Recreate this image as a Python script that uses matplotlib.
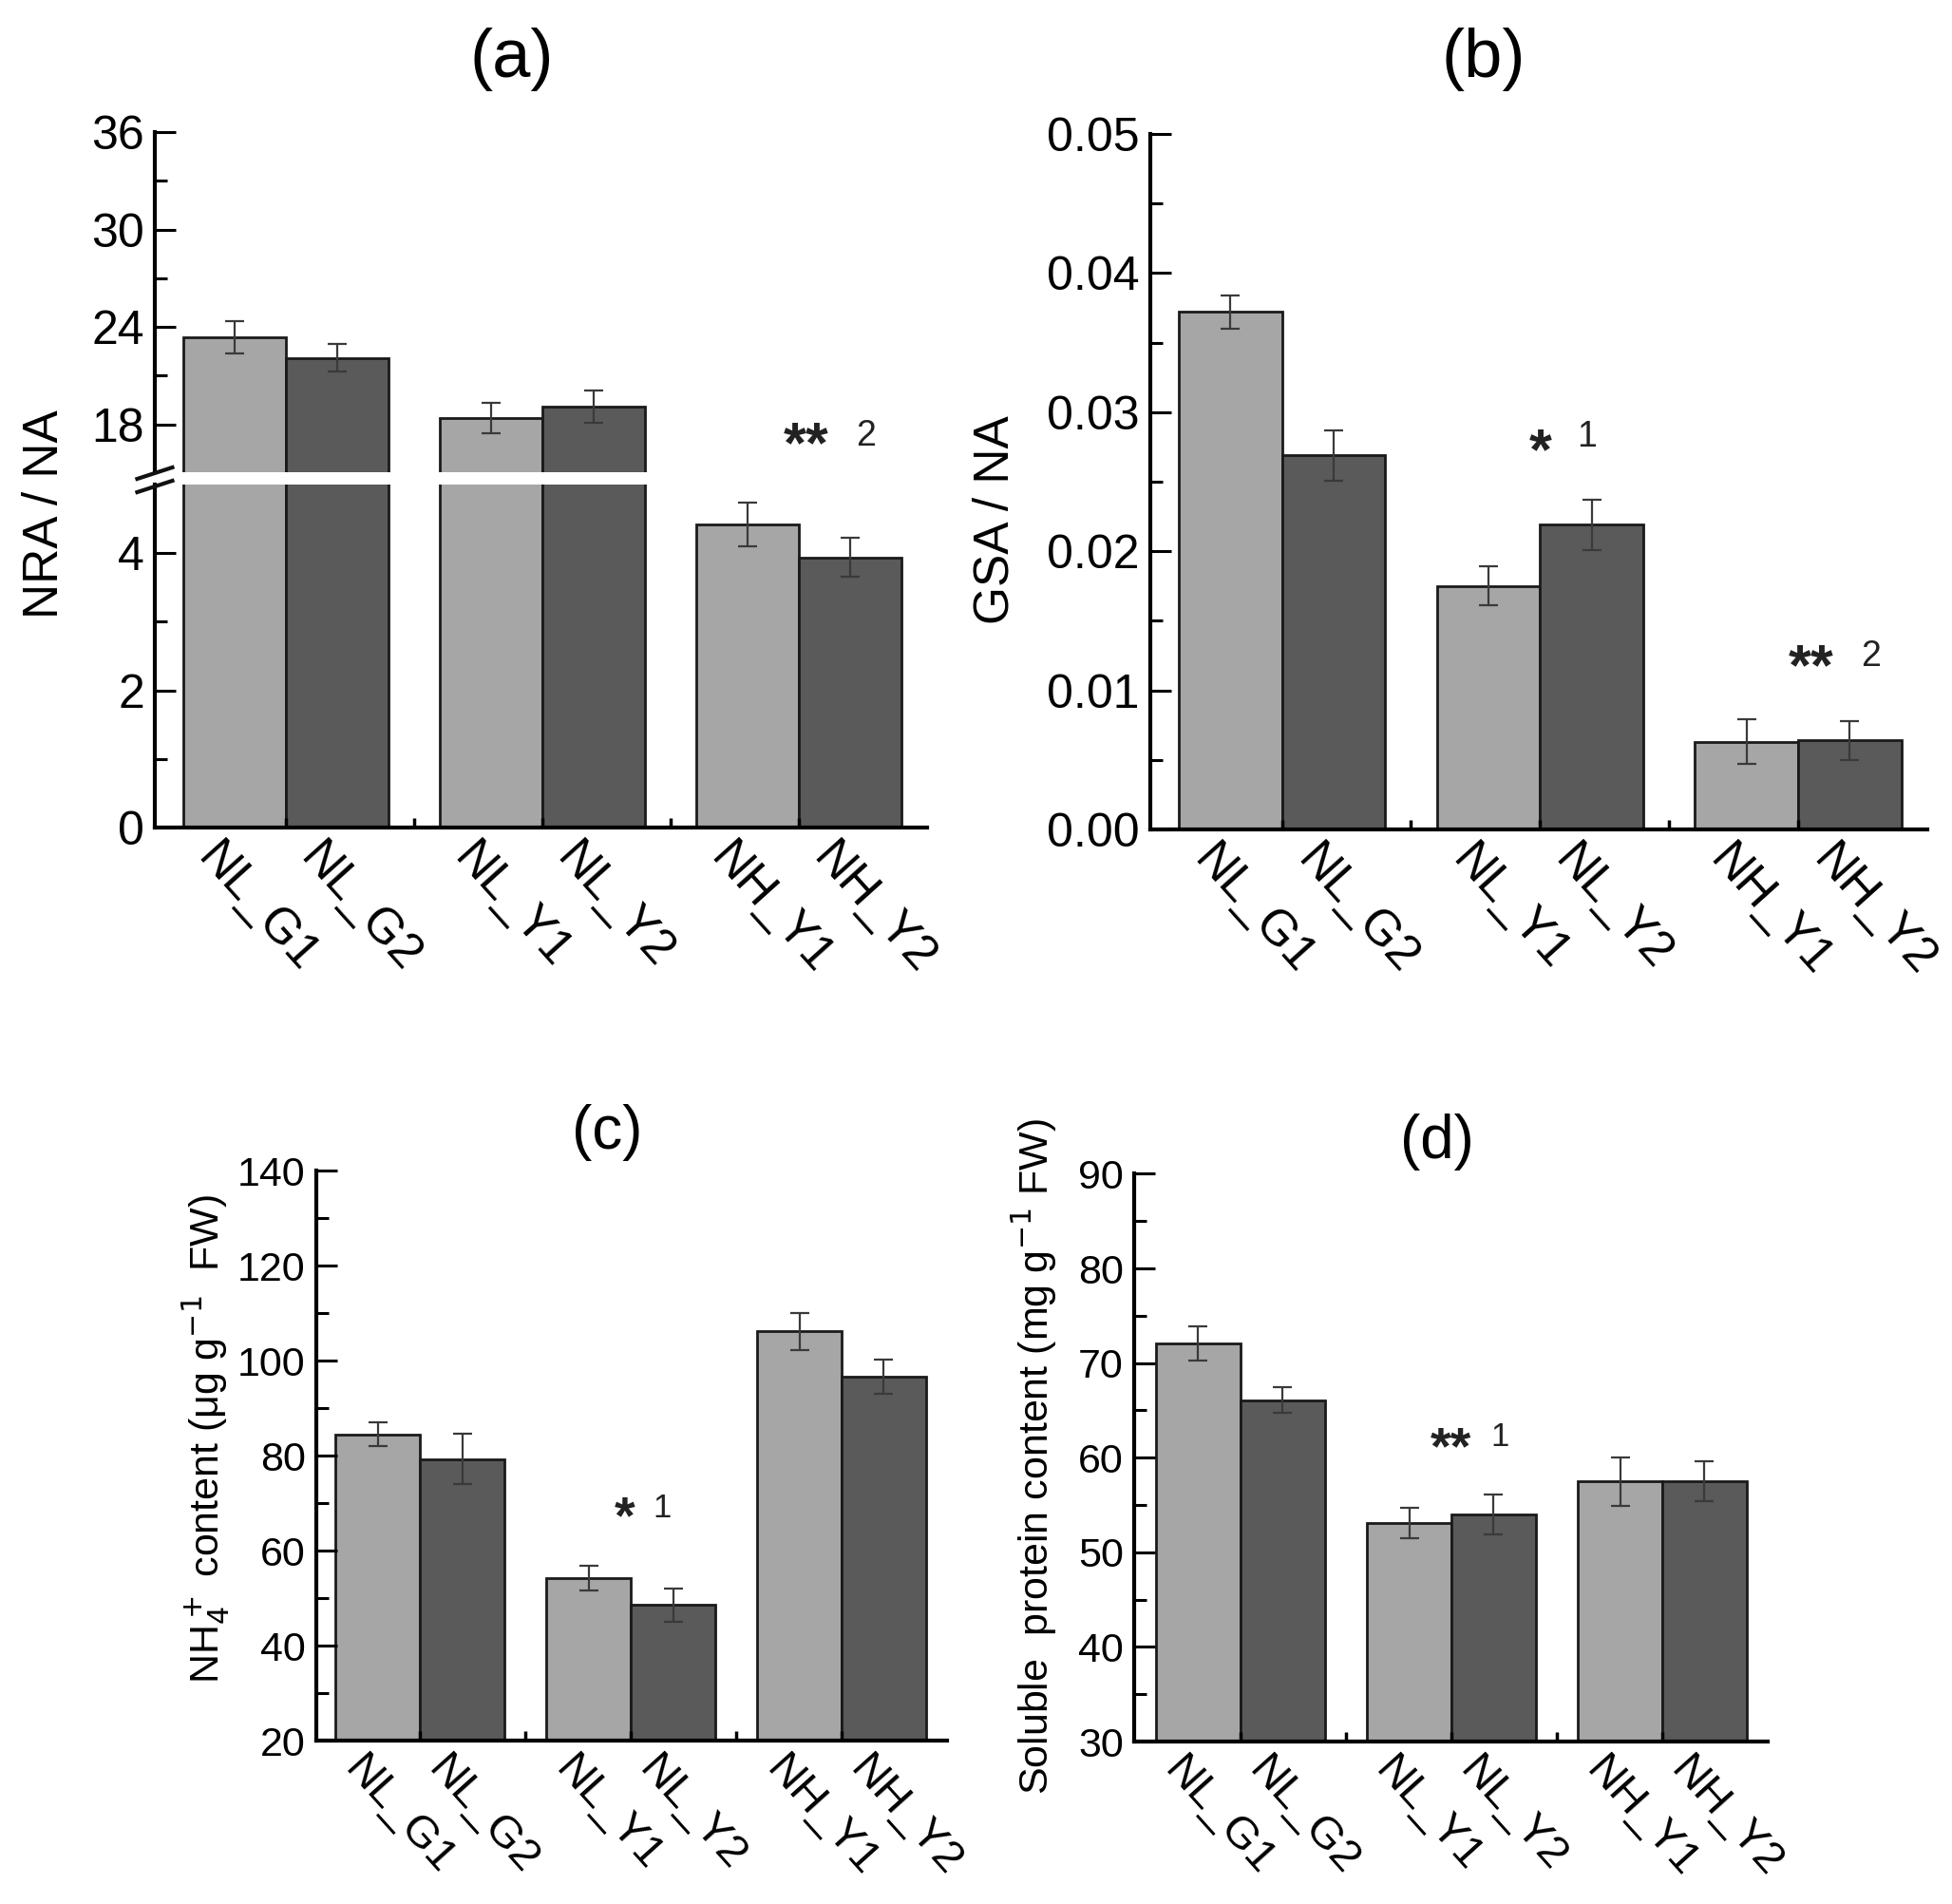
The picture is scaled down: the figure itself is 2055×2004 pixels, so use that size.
import matplotlib
matplotlib.use('Agg')
import matplotlib.pyplot as plt
from matplotlib.ticker import MultipleLocator, FixedLocator
from matplotlib.lines import Line2D
import matplotlib.transforms as mtransforms

plt.rcParams['font.family'] = ['Liberation Sans', 'DejaVu Sans']

# categories
labels = ['NL_G1', 'NL_G2', 'NL_Y1', 'NL_Y2', 'NH_Y1', 'NH_Y2']
groups = [1, 2, 3]

# (a) NRA / NA  -- light bar (first), dark bar (second) of each group
nra_1 = [23.35, 18.4, 4.42]
nra_2 = [22.1, 19.1, 3.94]
nra_err1 = [1.0, 0.95, 0.32]
nra_err2 = [0.85, 1.0, 0.29]

# (b) GSA / NA
gsa_1 = [0.0372, 0.0175, 0.0063]
gsa_2 = [0.0269, 0.0219, 0.0064]
gsa_err1 = [0.0012, 0.0014, 0.0016]
gsa_err2 = [0.0018, 0.0018, 0.0014]

# (c) NH4+ content
nh4_1 = [84.5, 54.3, 106.2]
nh4_2 = [79.3, 48.6, 96.6]
nh4_err1 = [2.5, 2.6, 3.9]
nh4_err2 = [5.3, 3.5, 3.6]

# (d) soluble protein content
prot_1 = [72.1, 53.1, 57.5]
prot_2 = [66.1, 54.0, 57.5]
prot_err1 = [1.8, 1.6, 2.55]
prot_err2 = [1.4, 2.1, 2.1]

light = '#a6a6a6'
dark = '#5a5a5a'
W = 0.4

fig = plt.figure(figsize=(20.55, 20.04), dpi=100)


def draw_bars(ax, v1, v2, e1, e2):
    x1 = [g - W / 2 for g in groups]
    x2 = [g + W / 2 for g in groups]
    ax.bar(x1, v1, W, color=light, edgecolor='#1a1a1a', linewidth=2)
    ax.bar(x2, v2, W, color=dark, edgecolor='#1a1a1a', linewidth=2)
    for xs, vs, es in [(x1, v1, e1), (x2, v2, e2)]:
        ax.errorbar(xs, vs, yerr=es, fmt='none', ecolor='#3a3a3a',
                    elinewidth=1.6, capsize=7, capthick=1.6)


def style(ax, fs, xfs, show_x=True):
    ax.set_xlim(0.49, 3.5)
    for s in ['top', 'right']:
        ax.spines[s].set_visible(False)
    for s in ['left', 'bottom']:
        ax.spines[s].set_linewidth(3)
    ax.tick_params(axis='y', which='major', direction='in', length=16,
                   width=2.2, labelsize=fs, pad=8)
    ax.tick_params(axis='y', which='minor', direction='in', length=9,
                   width=2.2)
    bar_x = [g + d for g in groups for d in (-W / 2, W / 2)]
    ax.set_xticks(bar_x)
    ax.xaxis.set_minor_locator(FixedLocator([1, 1.5, 2, 2.5, 3]))
    ax.tick_params(axis='x', which='major', length=0, pad=6)
    ax.tick_params(axis='x', which='minor', direction='in', length=7,
                   width=2.5)
    if show_x:
        ax.set_xticklabels(labels, rotation=-48, ha='left', va='top',
                           rotation_mode='anchor', fontsize=xfs)
        off = mtransforms.ScaledTranslation(-0.12, 0, fig.dpi_scale_trans)
        for t in ax.get_xticklabels():
            t.set_transform(t.get_transform() + off)
    else:
        ax.set_xticklabels([])


def mark(ax, x, y, stars, nx, ny, num, fs=44, nfs=27):
    ax.text(x, y, stars, ha='center', va='center', fontsize=fs,
            fontweight='bold', color='#222222')
    ax.text(nx, ny, num, ha='center', va='center', fontsize=nfs,
            color='#222222')


# ---------- (a) broken axis ----------
ax_au = fig.add_axes([0.0793, 0.7520, 0.3956, 0.1786])
ax_al = fig.add_axes([0.0793, 0.5654, 0.3956, 0.1801])
for ax in (ax_au, ax_al):
    draw_bars(ax, nra_1, nra_2, nra_err1, nra_err2)
ax_au.set_ylim(15.06, 36)
ax_al.set_ylim(0, 5)
style(ax_au, 36, 37, show_x=False)
style(ax_al, 36, 37)
ax_au.spines['bottom'].set_visible(False)
ax_au.tick_params(axis='x', which='both', length=0)
ax_au.yaxis.set_major_locator(FixedLocator([18, 24, 30, 36]))
ax_au.yaxis.set_minor_locator(FixedLocator([21, 27, 33]))
ax_al.yaxis.set_major_locator(FixedLocator([0, 2, 4]))
ax_al.yaxis.set_minor_locator(FixedLocator([1, 3]))
mark(ax_au, 3.03, 16.6, '**', 3.26, 17.3, '2')
fig.text(0.023, 0.730, 'NRA / NA', rotation=90, ha='center', va='center',
         fontsize=37)
fig.text(0.262, 0.969, '(a)', ha='center', va='center', fontsize=52)
# break marks on the y axis
bx, by = 0.0793, 1 - 505 / 2004
for dy in (-0.0035, 0.0035):
    fig.add_artist(Line2D([bx - 0.009, bx + 0.009],
                          [by + dy - 0.003, by + dy + 0.003],
                          color='#111111', linewidth=3))

# ---------- (b) ----------
ax_b = fig.add_axes([0.5893, 0.5644, 0.3980, 0.3652])
draw_bars(ax_b, gsa_1, gsa_2, gsa_err1, gsa_err2)
ax_b.set_ylim(0, 0.05)
style(ax_b, 36, 37)
ax_b.yaxis.set_major_locator(MultipleLocator(0.01))
ax_b.yaxis.set_minor_locator(MultipleLocator(0.005))
ax_b.yaxis.set_major_formatter(plt.FuncFormatter(lambda v, p: f'{v:.2f}'))
mark(ax_b, 2.0, 0.0270, '*', 2.18, 0.0282, '1')
mark(ax_b, 3.05, 0.0115, '**', 3.28, 0.0124, '2')
fig.text(0.510, 0.727, 'GSA / NA', rotation=90, ha='center', va='center',
         fontsize=37)
fig.text(0.760, 0.969, '(b)', ha='center', va='center', fontsize=52)

# ---------- (c) ----------
ax_c = fig.add_axes([0.1620, 0.0858, 0.3232, 0.2994])
draw_bars(ax_c, nh4_1, nh4_2, nh4_err1, nh4_err2)
ax_c.set_ylim(20, 140)
style(ax_c, 31, 34)
ax_c.set_xlim(0.508, 3.5)
ax_c.yaxis.set_major_locator(MultipleLocator(20))
ax_c.yaxis.set_minor_locator(MultipleLocator(10))
mark(ax_c, 1.97, 66.5, '*', 2.15, 68.9, '1', fs=40, nfs=25)
fig.text(0.1056, 0.244, 'NH$_4^+$ content (\u03bcg g$^{-1}$  FW)',
         rotation=90, ha='center', va='center', fontsize=31)
fig.text(0.311, 0.405, '(c)', ha='center', va='center', fontsize=46)

# ---------- (d) ----------
ax_d = fig.add_axes([0.5810, 0.0853, 0.3246, 0.2982])
draw_bars(ax_d, prot_1, prot_2, prot_err1, prot_err2)
ax_d.set_ylim(30, 90)
style(ax_d, 31, 34)
ax_d.set_xlim(0.496, 3.5)
ax_d.yaxis.set_major_locator(MultipleLocator(10))
ax_d.yaxis.set_minor_locator(MultipleLocator(5))
mark(ax_d, 2.0, 60.8, '**', 2.23, 62.2, '1', fs=40, nfs=25)
fig.text(0.530, 0.235, 'Soluble  protein content (mg g$^{-1}$ FW)',
         rotation=90, ha='center', va='center', fontsize=31)
fig.text(0.736, 0.400, '(d)', ha='center', va='center', fontsize=46)

fig.savefig('out.png', dpi=100)
